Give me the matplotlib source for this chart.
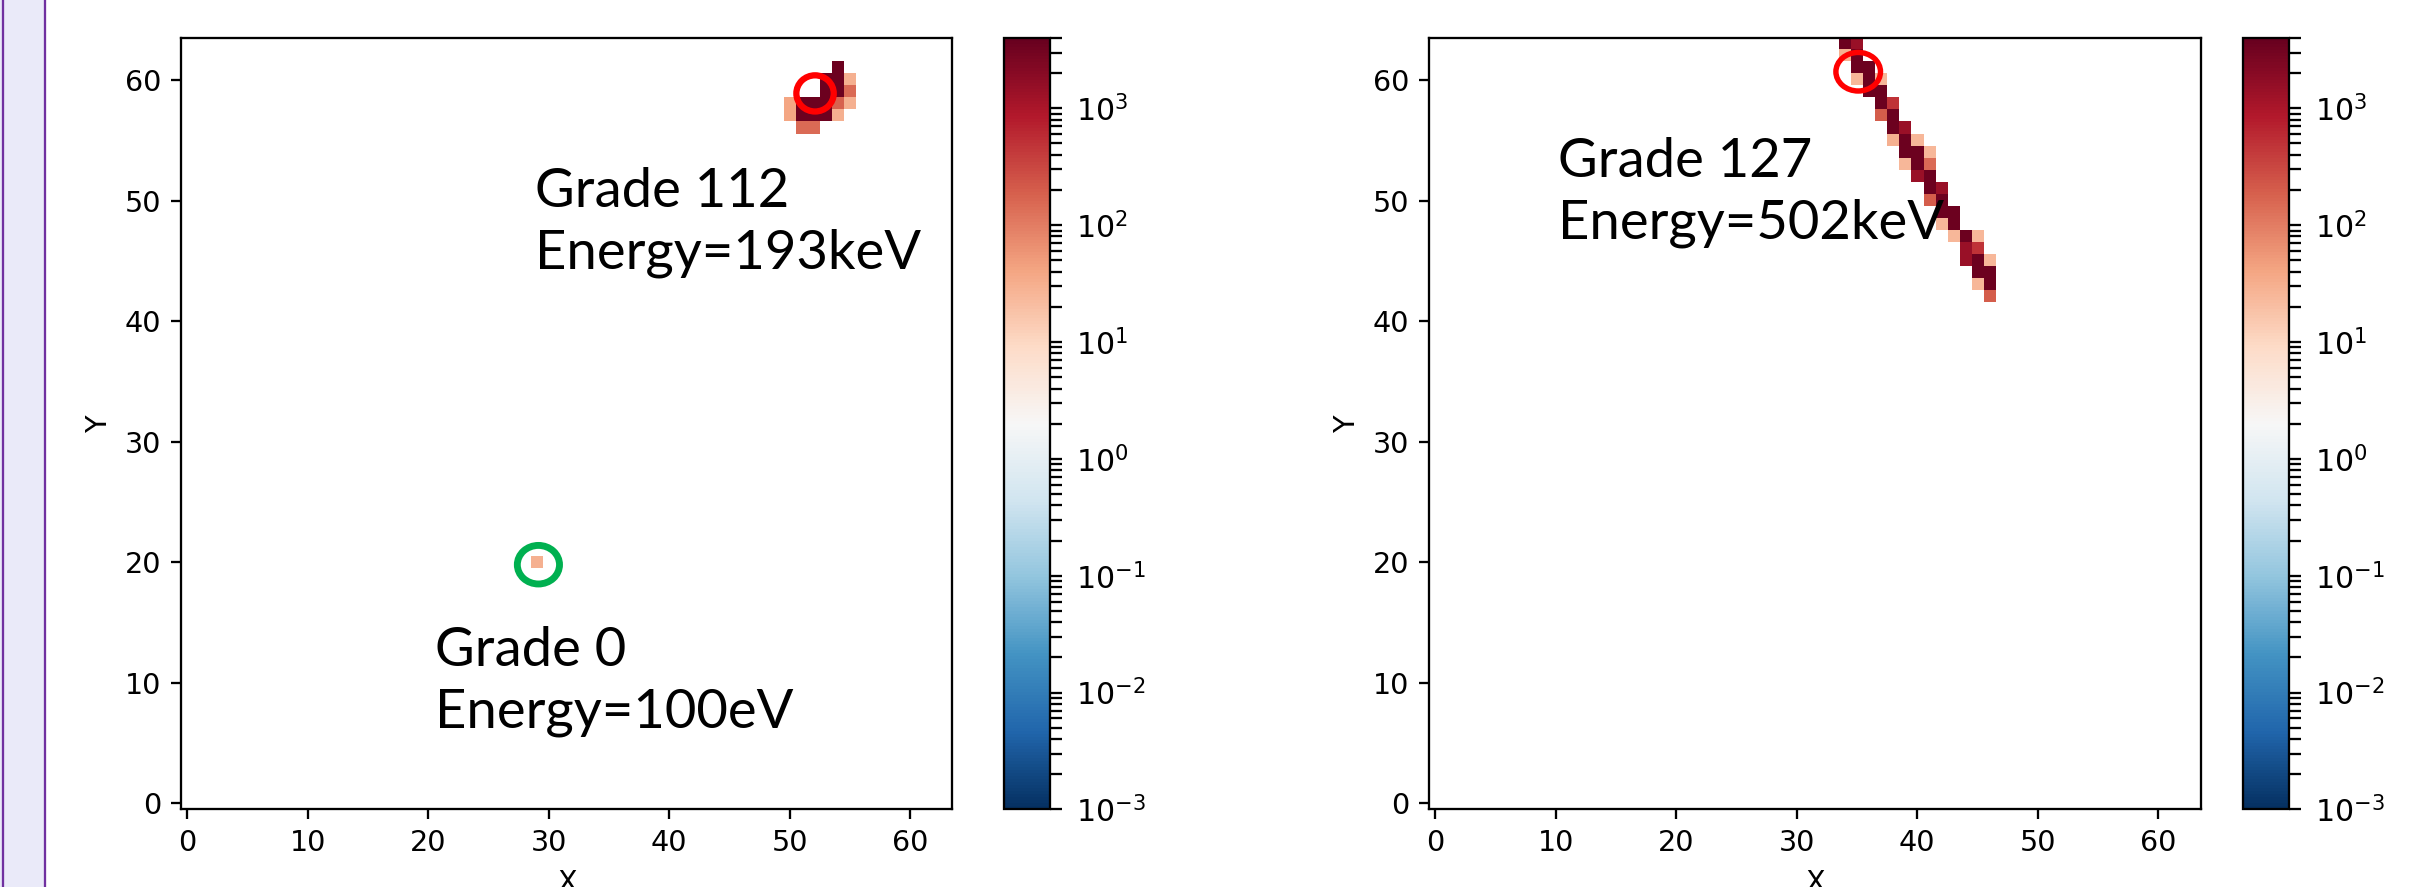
import numpy as np
import matplotlib.pyplot as plt
from matplotlib.colors import LogNorm
from matplotlib.ticker import LogLocator, LogFormatterSciNotation, NullLocator
from matplotlib.patches import Ellipse, Rectangle
from matplotlib.lines import Line2D

GRID = 64
VMIN, VMAX = 1e-3, 4000

# grade 0 event, single pixel
g0_cols = [29]
g0_rows = [20]
g0_vals = [30]

# grade 112 event, small cluster top right
g112_cols = [54, 53, 54, 55, 53, 54, 55, 50, 51, 52, 53, 54, 55, 50, 51, 52, 53, 54, 51, 52]
g112_rows = [61, 60, 60, 60, 59, 59, 59, 58, 58, 58, 58, 58, 58, 57, 57, 57, 57, 57, 56, 56]
g112_vals = [3500, 3500, 3500, 30, 3500, 3500, 150, 40, 3500, 3500, 3500, 180, 30,
             40, 3500, 3500, 3500, 30, 150, 150]

# grade 127 event, diagonal track
g127_cols = [34, 35, 34, 35, 35, 36, 35, 36, 37, 36, 37, 37, 38, 37, 38, 38, 39,
             38, 39, 40, 39, 40, 41, 39, 40, 41, 40, 41, 41, 42, 41, 42, 42, 43,
             42, 43, 43, 44, 45, 44, 45, 44, 45, 46, 45, 46, 45, 46, 46]
g127_rows = [63, 63, 62, 62, 61, 61, 60, 60, 60, 59, 59, 58, 58, 57, 57, 56, 56,
             55, 55, 55, 54, 54, 54, 53, 53, 53, 52, 52, 51, 51, 50, 50, 49, 49,
             48, 48, 47, 47, 47, 46, 46, 45, 45, 45, 44, 44, 43, 43, 42]
g127_vals = [3500, 1400, 30, 3500, 3500, 3500, 25, 3500, 25, 3500, 3500, 3500, 480,
             200, 3500, 3500, 1400, 30, 3500, 25, 3500, 3500, 25, 25, 3500, 150,
             1400, 3500, 3500, 1400, 200, 3500, 3500, 3500, 25, 3500, 25, 3500, 25,
             1400, 480, 1400, 3500, 25, 3500, 3500, 25, 3500, 200]


def make_frame(cols_list, rows_list, vals_list):
    frame = np.zeros((GRID, GRID))
    for cols, rows, vals in zip(cols_list, rows_list, vals_list):
        frame[rows, cols] = vals
    return np.ma.masked_less_equal(frame, 0)


def draw_panel(fig, ax_rect, cb_rect, frame):
    ax = fig.add_axes(ax_rect)
    cax = fig.add_axes(cb_rect)
    im = ax.imshow(frame, origin="lower", cmap="RdBu_r", interpolation="nearest",
                   norm=LogNorm(vmin=VMIN, vmax=VMAX))
    ax.set_xlabel("X")
    ax.set_ylabel("Y")
    cb = fig.colorbar(im, cax=cax)
    cb.ax.yaxis.set_major_locator(LogLocator(base=10, subs=np.arange(1, 10)))
    cb.ax.yaxis.set_major_formatter(LogFormatterSciNotation(labelOnlyBase=True))
    cb.ax.yaxis.set_minor_locator(NullLocator())
    cb.ax.tick_params(length=4.2, pad=5, labelsize=10.5)
    return ax


fig = plt.figure(figsize=(2422 / 206, 887 / 206), dpi=206)

left = make_frame([g0_cols, g112_cols], [g0_rows, g112_rows], [g0_vals, g112_vals])
right = make_frame([g127_cols], [g127_rows], [g127_vals])

ax1 = draw_panel(fig, [0.0740, 0.0875, 0.3200, 0.8697], [0.4145, 0.0875, 0.0190, 0.8697], left)
ax2 = draw_panel(fig, [0.5893, 0.0875, 0.3200, 0.8697], [0.9261, 0.0875, 0.0190, 0.8697], right)

# va="baseline" puts the last line on y
note = dict(fontsize=19, family="Lato", va="baseline", ha="left", linespacing=1.3)
ax1.text(28.9, 44.4, "Grade 112\nEnergy=193keV", **note)
ax1.text(20.6, 6.3, "Grade 0\nEnergy=100eV", **note)
ax2.text(10.2, 46.9, "Grade 127\nEnergy=502keV", **note)

ax1.add_patch(Ellipse((52.1, 58.9), 3.1, 3.0, fill=False, ec="#ff0000", lw=2.2, clip_on=False))
ax1.add_patch(Ellipse((29.15, 19.8), 3.5, 3.2, fill=False, ec="#00b050", lw=2.4, clip_on=False))
ax2.add_patch(Ellipse((35.1, 60.7), 3.7, 3.2, fill=False, ec="#ff0000", lw=1.9, clip_on=False))

# slide side bar on the left
fig.add_artist(Rectangle((0, 0), 45 / 2422, 1, transform=fig.transFigure,
                         facecolor="#eaeaf9", edgecolor="none", zorder=-1))
for xp in (3, 45):
    fig.add_artist(Line2D([xp / 2422, xp / 2422], [0, 1], transform=fig.transFigure,
                          color="#7030a0", lw=0.8))

fig.savefig("out.png", dpi=206)
